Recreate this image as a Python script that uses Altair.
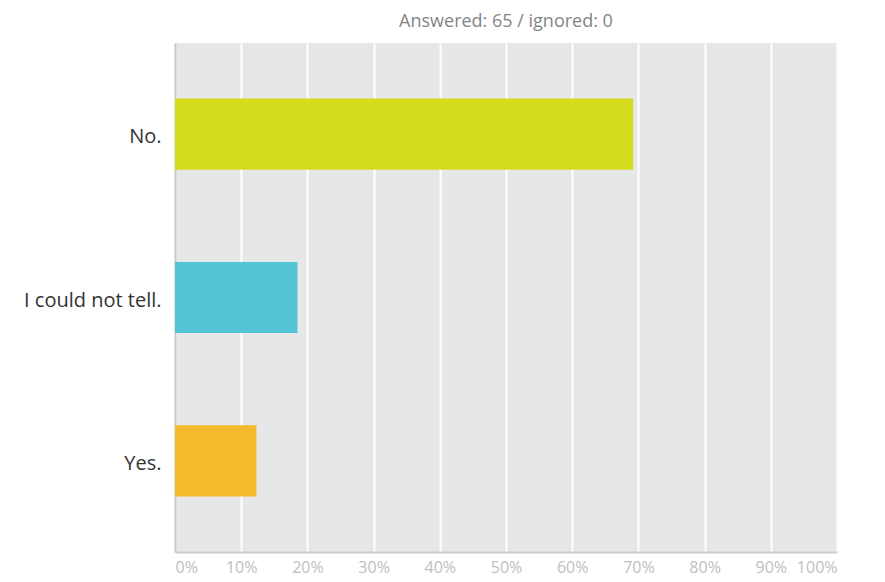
import altair as alt
import pandas as pd

answers = ["No.", "I could not tell.", "Yes."]
shares = [0.692, 0.185, 0.123]
colors = ["#d5dc1e", "#52c4d3", "#f4ba2d"]
x_ticks = [0, 0.1, 0.2, 0.3, 0.4, 0.5, 0.6, 0.7, 0.8, 0.9, 1.0]

df = pd.DataFrame({"answer": answers, "share": shares, "color": colors})

chart = (
    alt.Chart(df)
    .mark_bar()
    .encode(
        y=alt.Y(
            "answer:N",
            sort=answers,
            title=None,
            scale=alt.Scale(paddingInner=0.565, paddingOuter=0.34),
            axis=alt.Axis(
                ticks=False,
                grid=False,
                domain=True,
                domainColor="#c8c8c8",
                domainWidth=2,
                labelFont="Open Sans",
                labelFontSize=20,
                labelColor="#333333",
                labelPadding=14,
                labelOffset=3,
            ),
        ),
        x=alt.X(
            "share:Q",
            title=None,
            scale=alt.Scale(domain=[0, 1], nice=False),
            axis=alt.Axis(
                values=x_ticks,
                format=".0%",
                ticks=False,
                grid=True,
                gridColor="#ffffff",
                gridWidth=2,
                domain=True,
                domainColor="#cccccc",
                domainWidth=2,
                labelFont="Open Sans",
                labelFontSize=16,
                labelColor="#c0c0c0",
                labelPadding=7,
                labelFlush=True,
            ),
        ),
        color=alt.Color("color:N", scale=None, legend=None),
    )
    .properties(
        width=662,
        height=509,
        background="#ffffff",
        title=alt.TitleParams(
            "Answered: 65 / ignored: 0",
            font="Open Sans",
            fontSize=18,
            fontWeight="normal",
            color="#858585",
            anchor="middle",
            offset=12,
        ),
        autosize=alt.AutoSizeParams(type="none"),
        padding={"left": 167, "top": 35, "right": 40, "bottom": 30},
    )
    .configure_view(fill="#e6e7e8", strokeWidth=0)
)

chart.save("out.html", embed_options={"renderer": "svg", "actions": False})
